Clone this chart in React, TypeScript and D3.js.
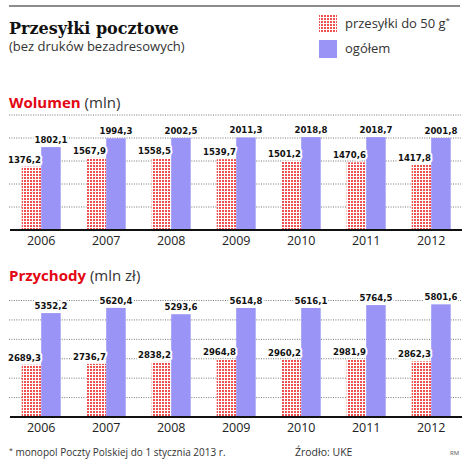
import React from "react";
import * as d3 from "d3";

const YEARS = ["2006", "2007", "2008", "2009", "2010", "2011", "2012"];
const VOLUME_SMALL = [1376.2, 1567.9, 1558.5, 1539.7, 1501.2, 1470.6, 1417.8];
const VOLUME_TOTAL = [1802.1, 1994.3, 2002.5, 2011.3, 2018.8, 2018.7, 2001.8];
const REVENUE_SMALL = [2689.3, 2736.7, 2838.2, 2964.8, 2960.2, 2981.9, 2862.3];
const REVENUE_TOTAL = [5352.2, 5620.4, 5293.6, 5614.8, 5616.1, 5764.5, 5801.6];
const VOLUME_TICKS = [500, 1000, 1500, 2000, 2500];
const REVENUE_TICKS = [1000, 2000, 3000, 4000, 5000, 6000];

const W = 466;
const H = 464;
const RED = "#ee4f50";
const PURPLE = "#9a94f6";
const SANS = "'Open Sans', 'Noto Sans', sans-serif";
const COND = "'DejaVu Sans Condensed', 'DejaVu Sans', sans-serif";

const fmt = (v: number) => v.toFixed(1).replace(".", ",");

const x = d3.scaleBand<string>().domain(YEARS).range([8.7, 463.7]).paddingInner(0.4).paddingOuter(0.2);
const xs = d3.scaleBand<string>().domain(["small", "total"]).range([0, x.bandwidth()]);

interface PanelProps {
  title: string;
  unit: string;
  titleY: number;
  small: number[];
  total: number[];
  ticks: number[];
  top: number;
  base: number;
}

function Panel({ title, unit, titleY, small, total, ticks, top, base }: PanelProps) {
  const y = d3.scaleLinear().domain([0, d3.max(ticks)!]).range([base, top]);
  const halo = { stroke: "#fff", strokeWidth: 4, paintOrder: "stroke" as const, strokeLinejoin: "round" as const };
  return (
    <g>
      <text x={9} y={titleY} fontFamily={SANS} fontSize={15}>
        <tspan fill="#e30613" fontWeight={700}>{title}</tspan>
        <tspan fill="#333"> {unit}</tspan>
      </text>
      {ticks.map((t) => (
        <line key={t} x1={9} x2={461} y1={y(t)} y2={y(t)} stroke="#777" strokeWidth={1} strokeDasharray="1,1.4" />
      ))}
      {YEARS.map((yr, i) => {
        const x0 = x(yr)!;
        return (
          <g key={yr}>
            <rect x={x0 + xs("small")!} y={y(small[i])} width={xs.bandwidth()} height={base - y(small[i])} fill="url(#dots)" />
            <rect x={x0 + xs("total")!} y={y(total[i])} width={xs.bandwidth()} height={base - y(total[i])} fill={PURPLE} />
            <text x={x0 + xs("small")! + xs.bandwidth() / 2 - 7} y={y(small[i]) - 4} textAnchor="middle"
              fontFamily={COND} fontWeight={700} fontSize={9.5} fill="#111" {...halo}>{fmt(small[i])}</text>
            <text x={x0 + xs("total")! + xs.bandwidth() / 2} y={y(total[i]) - 4} textAnchor="middle"
              fontFamily={COND} fontWeight={700} fontSize={9.5} fill="#111" {...halo}>{fmt(total[i])}</text>
            <text x={x0 + x.bandwidth() / 2} y={base + 15} textAnchor="middle" fontFamily={SANS} fontSize={12.5} fill="#222">{yr}</text>
          </g>
        );
      })}
      <line x1={10} x2={462} y1={base} y2={base} stroke="#111" strokeWidth={2} />
    </g>
  );
}

export default function App() {
  return (
    <div style={{ position: "absolute", left: 0, top: 0 }}>
      <svg width={W} height={H} style={{ display: "block", background: "#fff" }}>
        <defs>
          <pattern id="dots" width={3} height={3} patternUnits="userSpaceOnUse">
            <rect width={3} height={3} fill="#fff" />
            <rect width={2} height={2} fill={RED} />
          </pattern>
        </defs>
        <line x1={9} x2={460} y1={6} y2={6} stroke="#666" strokeWidth={1.5} />
        <text x={9} y={34} fontFamily="'DejaVu Serif', serif" fontWeight={700} fontSize={16} fill="#111">Przesyłki pocztowe</text>
        <text x={9} y={51} fontFamily={SANS} fontSize={13} fill="#333">(bez druków bezadresowych)</text>

        <rect x={319} y={14} width={18} height={18} fill="url(#dots)" />
        <text x={345} y={28} fontFamily={SANS} fontSize={13} fill="#333">
          przesyłki do 50 g<tspan fontSize={8} dy={-5}>*</tspan>
        </text>
        <rect x={319} y={40} width={18} height={18} fill={PURPLE} />
        <text x={345} y={53} fontFamily={SANS} fontSize={13} fill="#333">ogółem</text>

        <Panel title="Wolumen" unit="(mln)" titleY={108} small={VOLUME_SMALL} total={VOLUME_TOTAL} ticks={VOLUME_TICKS} top={115} base={230} />
        <Panel title="Przychody" unit="(mln zł)" titleY={281} small={REVENUE_SMALL} total={REVENUE_TOTAL} ticks={REVENUE_TICKS} top={300.5} base={417} />

        <text x={9} y={456} fontFamily={SANS} fontSize={10} fill="#333">
          <tspan fontSize={7} dy={-3}>*</tspan><tspan dy={3}> monopol Poczty Polskiej do 1 stycznia 2013 r.</tspan>
        </text>
        <text x={295} y={456} fontFamily={SANS} fontSize={10.5} fill="#333">Źrodło: UKE</text>
        <text x={450} y={455} fontFamily={SANS} fontSize={6} fill="#555">RM</text>
      </svg>
    </div>
  );
}
